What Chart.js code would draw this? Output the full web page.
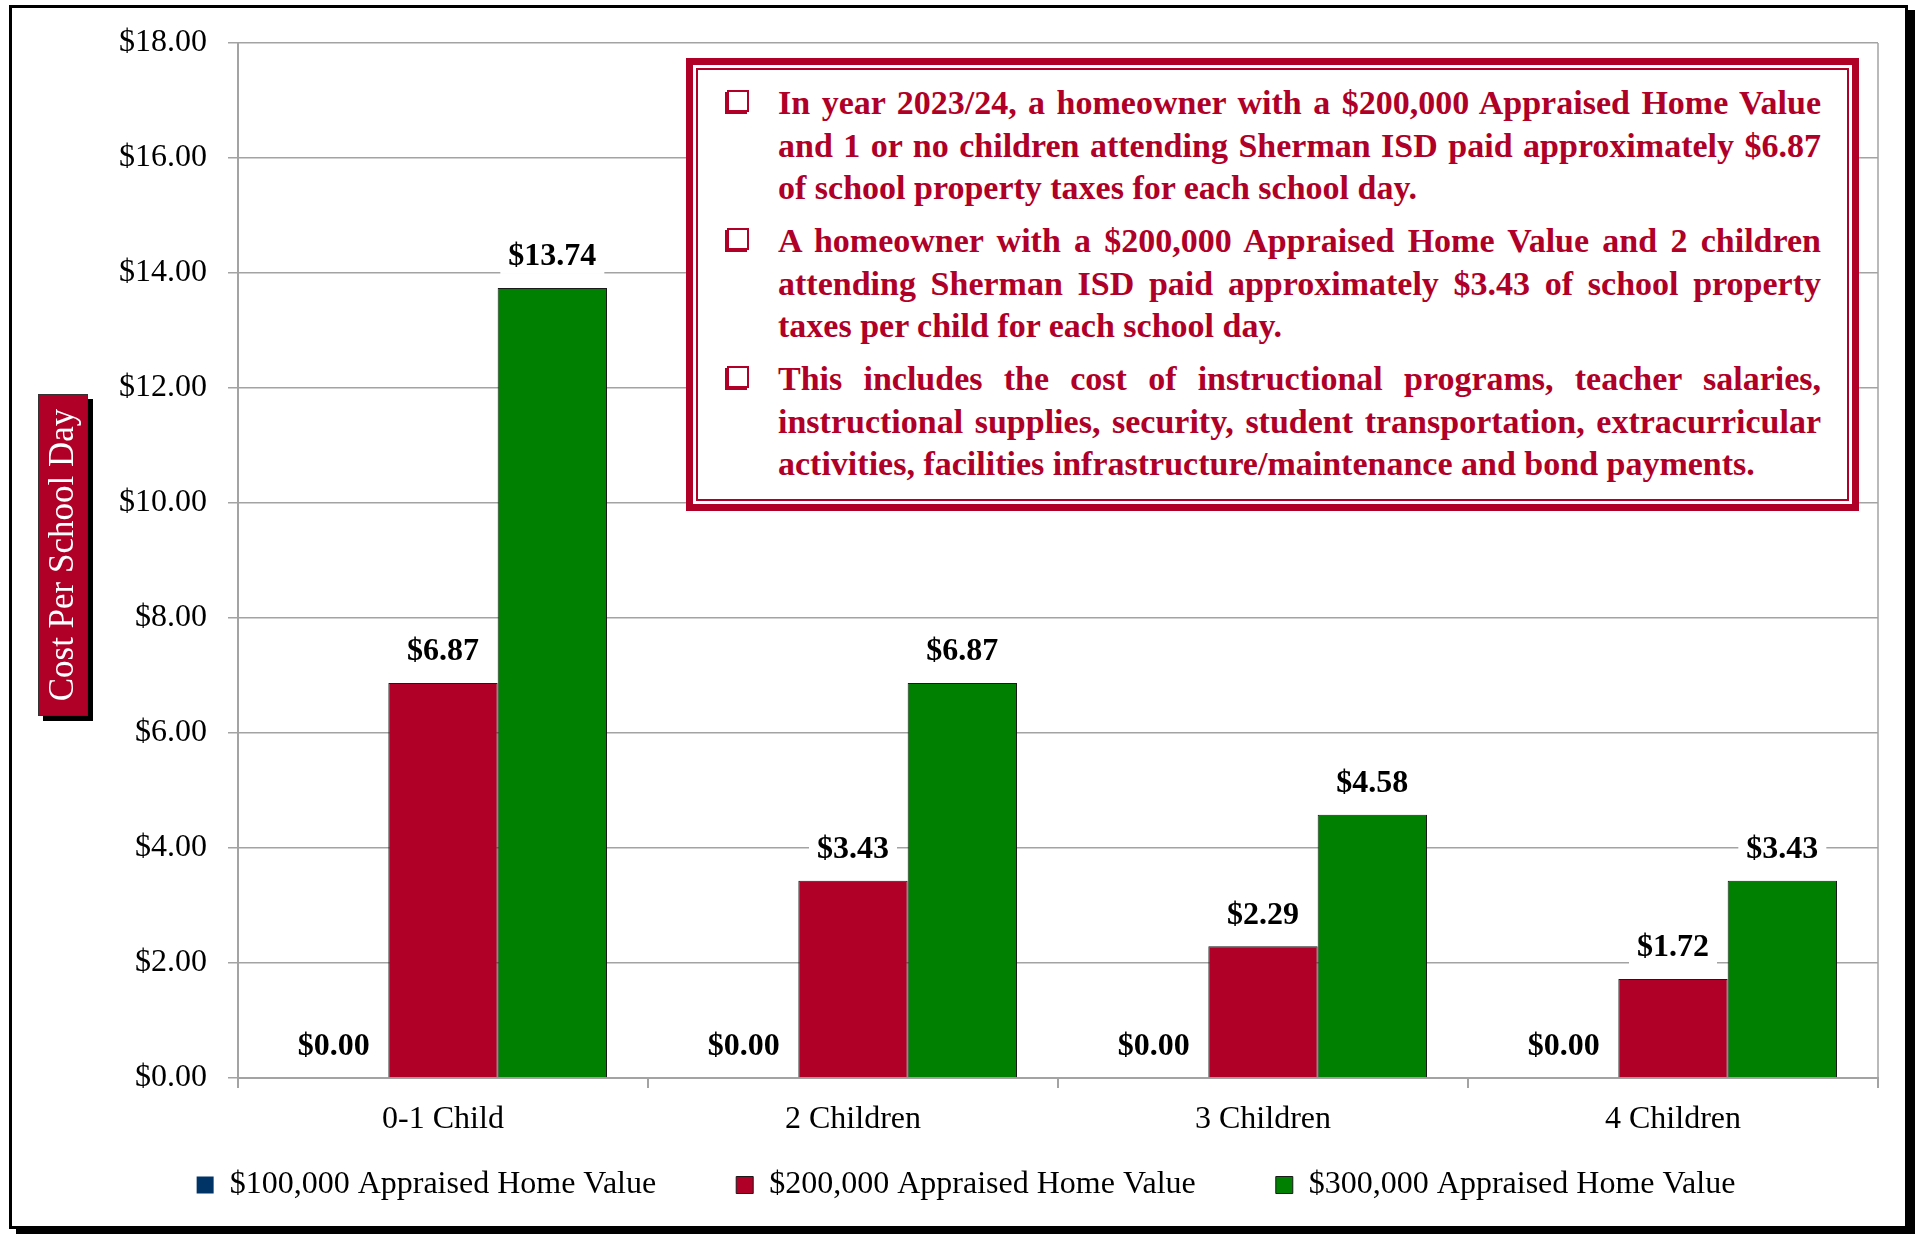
<!DOCTYPE html>
<html>
<head>
<meta charset="utf-8">
<script src="https://cdn.jsdelivr.net/npm/chart.js@4.4.1/dist/chart.umd.min.js"></script>
<style>
  html,body{margin:0;padding:0;background:#fff;}
  body{width:1915px;height:1234px;position:relative;overflow:hidden;font-family:"Liberation Serif","Times New Roman",serif;}
  #frame{position:absolute;left:9px;top:5px;width:1899px;height:1224px;box-sizing:border-box;
    border:3px solid #000;box-shadow:7px 5px 0 #000;background:#fff;z-index:0;}
  #wrap{position:absolute;left:0;top:0;width:1915px;height:1234px;z-index:1;}
  #note{position:absolute;left:686px;top:58px;width:1173px;height:453px;box-sizing:border-box;
    border:7px solid #B00028;background:#fff;z-index:2;}
  #note .inner{position:absolute;left:3px;top:3px;right:3px;bottom:3px;border:2px solid #B00028;
    padding:12px 26px 0 80px;}
  #note .para{position:relative;margin-bottom:10.5px;}
  #note .ln{font:bold 34px/42.5px "Liberation Serif","Times New Roman",serif;color:#B00028;
    text-align:justify;text-align-last:justify;}
  #note .ln.last{text-align:left;text-align-last:left;}
  #note .bullet{position:absolute;left:-51px;top:8px;width:22px;height:22px;box-sizing:border-box;
    border:2px solid #B00028;box-shadow:-2px 2px 0 #B00028;}
</style>
</head>
<body>
<div id="frame"></div>
<div id="wrap"><canvas id="chart"></canvas></div>
<div id="note"><div class="inner">
  <div class="para"><span class="bullet"></span>
    <div class="ln">In year 2023/24, a homeowner with a $200,000 Appraised Home Value</div>
    <div class="ln">and 1 or no children attending Sherman ISD paid approximately $6.87</div>
    <div class="ln last">of school property taxes for each school day.</div>
  </div>
  <div class="para"><span class="bullet"></span>
    <div class="ln">A homeowner with a $200,000 Appraised Home Value and 2 children</div>
    <div class="ln">attending Sherman ISD paid approximately $3.43 of school property</div>
    <div class="ln last">taxes per child for each school day.</div>
  </div>
  <div class="para"><span class="bullet"></span>
    <div class="ln">This includes the cost of instructional programs, teacher salaries,</div>
    <div class="ln">instructional supplies, security, student transportation, extracurricular</div>
    <div class="ln last">activities, facilities infrastructure/maintenance and bond payments.</div>
  </div>
</div></div>
<script>
/* ---- data ------------------------------------------------------------ */
const CATEGORIES = ["0-1 Child", "2 Children", "3 Children", "4 Children"];
const SERIES = ["$100,000 Appraised Home Value", "$200,000 Appraised Home Value", "$300,000 Appraised Home Value"];
const VALUES_100K = [0.00, 0.00, 0.00, 0.00];
const VALUES_200K = [6.87, 3.43, 2.29, 1.72];
const VALUES_300K = [13.74, 6.87, 4.58, 3.43];
const Y_TICKS = [0, 2, 4, 6, 8, 10, 12, 14, 16, 18];
const Y_TITLE = "Cost Per School Day";

const RED = "#B00028", GREEN = "#008000", BLUE = "#003366", GRID = "#a3a3a3";
const FONT = "'Liberation Serif', 'Times New Roman', serif";
const LEG_FS = 32, LEG_PAD = 80;
const money = v => "$" + v.toFixed(2);

Chart.defaults.font.family = FONT;
Chart.defaults.color = "#000";

/* ---- plugins --------------------------------------------------------- */
// value labels above each bar, on a white patch that hides the gridline
const barLabels = {
  id: "barLabels",
  afterDatasetsDraw(chart){
    const ctx = chart.ctx;
    ctx.save();
    ctx.font = "bold 32px " + FONT;
    ctx.textAlign = "center";
    ctx.textBaseline = "middle";
    chart.data.datasets.forEach((ds, i) => {
      chart.getDatasetMeta(i).data.forEach((bar, j) => {
        const t = money(ds.data[j]), y = bar.y - 31;
        const w = ctx.measureText(t).width + 16;
        ctx.fillStyle = "#fff";
        ctx.fillRect(bar.x - w/2, y - 17, w, 34);
        ctx.fillStyle = "#000";
        ctx.fillText(t, bar.x, y);
      });
    });
    ctx.restore();
  }
};

// legend sits a bit higher and right of where the layout puts it
const legendPlace = {
  id: "legendPlace",
  afterLayout(chart){
    const lg = chart.legend;
    lg.top = 1185 - LEG_PAD - LEG_FS/2;
    lg.bottom = chart.height;
    lg.height = lg.bottom - lg.top;
    lg.left += 27; lg.right += 27;
  }
};

// right edge of plot area + boxed, rotated axis title
const decor = {
  id: "decor",
  beforeDatasetsDraw(chart){
    const {ctx, chartArea:a} = chart;
    ctx.save();
    ctx.strokeStyle = GRID; ctx.lineWidth = 1.5;
    ctx.beginPath(); ctx.moveTo(a.right, a.top); ctx.lineTo(a.right, a.bottom); ctx.stroke();
    ctx.restore();
  },
  afterDraw(chart){
    const ctx = chart.ctx;
    const x = 38, y = 394, w = 50, h = 322;
    ctx.save();
    ctx.fillStyle = "#000";
    ctx.fillRect(x + 5, y + 5, w, h);
    ctx.fillStyle = RED;
    ctx.fillRect(x, y, w, h);
    ctx.strokeStyle = "#333"; ctx.lineWidth = 1;
    ctx.strokeRect(x + .5, y + .5, w - 1, h - 1);
    ctx.translate(x + w/2 + 1, y + h/2);
    ctx.rotate(-Math.PI/2);
    ctx.fillStyle = "#fff";
    ctx.font = "35px " + FONT;
    ctx.textAlign = "center"; ctx.textBaseline = "middle";
    ctx.fillText(Y_TITLE, 0, 0);
    ctx.restore();
  }
};

/* ---- chart ----------------------------------------------------------- */
new Chart(document.getElementById("chart"), {
  type: "bar",
  data: {
    labels: CATEGORIES,
    datasets: [
      { label: SERIES[0], data: VALUES_100K, backgroundColor: BLUE, borderColor: "#1a1a1a", borderWidth: 0 },
      { label: SERIES[1], data: VALUES_200K, backgroundColor: RED,  borderColor: "#1a1a1a", borderWidth: 1 },
      { label: SERIES[2], data: VALUES_300K, backgroundColor: GREEN, borderColor: "#1a1a1a", borderWidth: 1 }
    ]
  },
  options: {
    responsive: true, maintainAspectRatio: false, animation: false,
    devicePixelRatio: 1,
    layout: { padding: { left: 0, top: 43, right: 37, bottom: 0 } },
    datasets: { bar: { categoryPercentage: 0.8, barPercentage: 1.0 } },
    plugins: {
      tooltip: { enabled: false },
      legend: {
        position: "bottom",
        maxHeight: 96,
        labels: { font: { size: LEG_FS, family: FONT }, color: "#000", boxWidth: 17, boxHeight: 17, padding: LEG_PAD }
      }
    },
    scales: {
      x: {
        afterFit: s => { s.height = 60; },
        grid: { display: true, drawOnChartArea: false, drawTicks: true, tickLength: 10, color: GRID, lineWidth: 2 },
        border: { display: true, color: GRID, width: 2 },
        ticks: { font: { size: 32 }, color: "#000", padding: 12 }
      },
      y: {
        min: 0, max: 18,
        afterFit: s => { s.width = 238; },
        afterBuildTicks: s => { s.ticks = Y_TICKS.map(v => ({ value: v })); },
        grid: { color: GRID, lineWidth: 1.5, drawTicks: true, tickLength: 10 },
        border: { display: true, color: GRID, width: 2 },
        ticks: { font: { size: 32 }, color: "#000", padding: 21, callback: v => money(v) }
      }
    }
  },
  plugins: [barLabels, legendPlace, decor]
});
</script>
</body>
</html>
